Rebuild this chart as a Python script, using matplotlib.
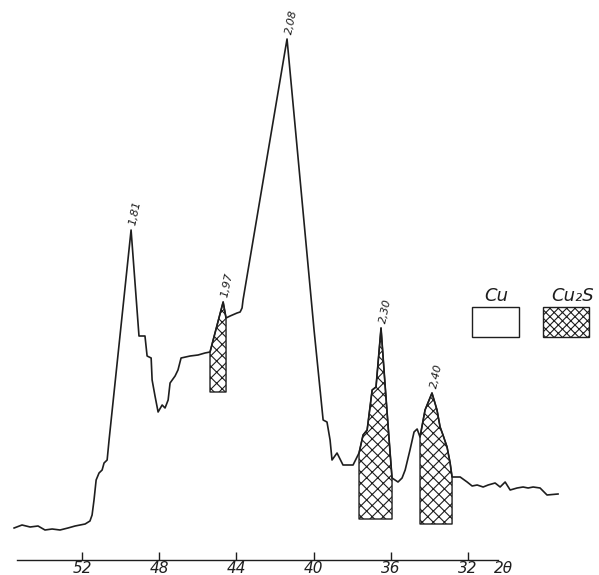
import numpy as np
import matplotlib
matplotlib.use("Agg")
import matplotlib.pyplot as plt
from matplotlib.patches import Rectangle

#####################################################################
#            DATA
#####################################################################

# diffraction angle 2theta (deg) and intensity (arb. units)
two_theta = np.array([
    55.52, 55.11, 54.69, 54.28, 53.92, 53.55, 53.14, 52.73, 52.36, 51.84,
    51.59, 51.48, 51.38, 51.27, 51.12, 50.96, 50.86, 50.70, 50.60, 49.46,
    49.05, 48.74, 48.63, 48.42, 48.37, 48.22, 48.06, 47.85, 47.70, 47.54,
    47.44, 47.18, 47.03, 46.87, 46.40, 45.99, 45.63, 45.37, 44.69, 44.54,
    44.33, 43.97, 43.81, 43.71, 43.66, 41.38, 39.98, 39.51, 39.31, 39.15,
    39.05, 38.79, 38.48, 37.96, 37.65, 37.44, 37.23, 36.97, 36.77, 36.51,
    36.30, 36.09, 35.94, 35.63, 35.42, 35.26, 35.01, 34.80, 34.64, 34.49,
    34.23, 33.87, 33.61, 33.45, 33.30, 33.09, 32.93, 32.83, 32.78, 32.41,
    32.05, 31.79, 31.53, 31.22, 30.96, 30.60, 30.34, 30.08, 29.82, 29.46,
    29.15, 28.89, 28.63, 28.27, 27.91, 27.34,
])
intensity = np.array([
    3.2, 3.5, 3.3, 3.4, 3.0, 3.1, 3.0, 3.2, 3.4, 3.6,
    3.9, 4.5, 6.0, 8.0, 8.7, 9.0, 9.7, 10.0, 12.0, 33.0,
    22.4, 22.4, 20.4, 20.2, 18.0, 16.4, 14.8, 15.5, 15.2, 16.0,
    17.7, 18.4, 19.0, 20.2, 20.4, 20.5, 20.7, 20.8, 25.8, 24.2,
    24.4, 24.7, 24.8, 25.2, 26.0, 52.1, 23.0, 14.0, 13.8, 12.0,
    10.0, 10.7, 9.5, 9.5, 10.7, 12.5, 13.0, 17.0, 17.3, 23.2,
    17.5, 12.0, 8.2, 7.8, 8.2, 9.0, 11.0, 12.8, 13.1, 12.3,
    15.0, 16.7, 15.0, 13.3, 12.5, 11.3, 9.7, 8.3, 8.3, 8.3,
    7.8, 7.4, 7.5, 7.3, 7.5, 7.7, 7.3, 7.8, 7.0, 7.2,
    7.3, 7.2, 7.3, 7.2, 6.5, 6.6,
])

# peaks labelled with d-spacing (A)
peak_theta = [49.46, 44.69, 41.38, 36.51, 33.87]
peak_int = [33.0, 25.8, 52.1, 23.2, 16.7]
peak_d = ["1,81", "1,97", "2,08", "2,30", "2,40"]

# Cu2S peaks (hatched): 2theta from, 2theta to, baseline
cu2s_hi = [45.37, 37.65, 34.49]
cu2s_lo = [44.54, 35.94, 32.83]
cu2s_base = [16.8, 4.1, 3.6]

xticks = [52, 48, 44, 40, 36, 32]

#####################################################################
#            PLOT
#####################################################################

plt.rcParams['hatch.linewidth'] = 0.8
ink = "#1e1e1e"

fig = plt.figure(figsize=(5.99, 5.75), dpi=100)
ax = fig.add_axes([17 / 599, 15 / 575, 481 / 599, 560 / 575])
ax.set_xlim(55.37, 30.45)
ax.set_ylim(0, 56)

for hi, lo, base in zip(cu2s_hi, cu2s_lo, cu2s_base):
    m = (two_theta <= hi) & (two_theta >= lo)
    ax.fill_between(two_theta, intensity, base, where=m, facecolor="white",
                    edgecolor=ink, hatch="xxx", linewidth=1.0, zorder=2,
                    clip_on=False)

ax.plot(two_theta, intensity, color=ink, lw=1.2, zorder=3, clip_on=False)

for t, i, d in zip(peak_theta, peak_int, peak_d):
    ax.annotate(d, xy=(t, i), xytext=(3, 3), textcoords="offset points",
                rotation=78, ha="center", va="bottom", fontsize=8,
                fontstyle="italic", color=ink)

# axis
for s in ["left", "top", "right"]:
    ax.spines[s].set_visible(False)
ax.spines["bottom"].set_color(ink)
ax.spines["bottom"].set_linewidth(1.0)
ax.yaxis.set_visible(False)
ax.set_xticks(xticks)
ax.set_xticklabels([str(v) for v in xticks], fontstyle="italic")
ax.tick_params(axis="x", direction="in", length=6, width=1.0, pad=1,
               labelsize=11, colors=ink)
ax.annotate("2θ", xy=(1, 0), xycoords="axes fraction", xytext=(-3, -1),
            textcoords="offset points", ha="left", va="top", fontsize=11,
            fontstyle="italic", color=ink)

# legend drawn by hand like the original
fig.add_artist(Rectangle((472 / 599, 1 - 337 / 575), 47 / 599, 30 / 575,
                         transform=fig.transFigure, facecolor="white",
                         edgecolor=ink, lw=1.0))
fig.add_artist(Rectangle((543 / 599, 1 - 337 / 575), 46 / 599, 30 / 575,
                         transform=fig.transFigure, facecolor="white",
                         edgecolor=ink, hatch="xxxx", lw=1.0))
fig.text(496 / 599, 1 - 296 / 575, "Cu", ha="center", va="center",
         fontsize=13, fontstyle="italic", color=ink)
fig.text(573 / 599, 1 - 296 / 575, "Cu₂S", ha="center", va="center",
         fontsize=13, fontstyle="italic", color=ink)

plt.savefig("out.png", dpi=100)
